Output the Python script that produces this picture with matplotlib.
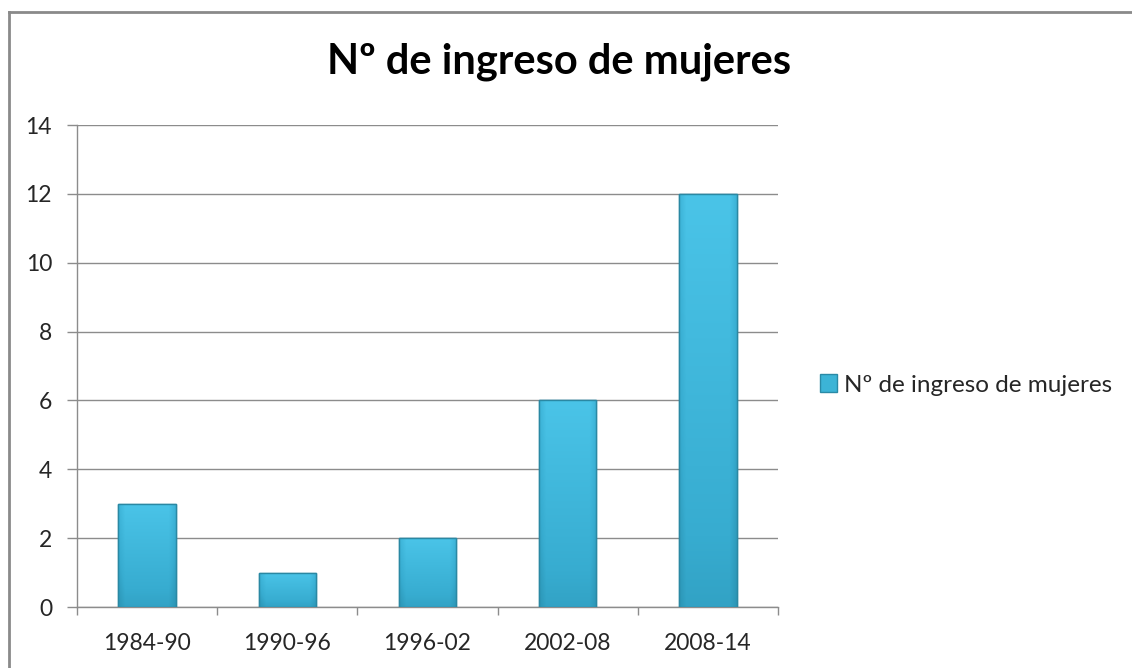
import numpy as np
import matplotlib.pyplot as plt
from matplotlib.patches import Patch
from matplotlib.lines import Line2D
from matplotlib.colors import LinearSegmentedColormap

# datos del gráfico
periodos = ['1984-90', '1990-96', '1996-02', '2002-08', '2008-14']
ingresos = [3, 1, 2, 6, 12]
serie = 'Nº de ingreso de mujeres'

plt.rcParams['font.family'] = ['Lato', 'DejaVu Sans']

fig = plt.figure(figsize=(11.32, 6.68), dpi=100)
ax = fig.add_axes([77 / 1132, 61 / 668, 701 / 1132, 482 / 668])

x = np.arange(len(periodos))
bars = ax.bar(x, ingresos, width=0.41, color='#3cb4d6', edgecolor='#2a8aa6',
              linewidth=1.0, zorder=3, label=serie)

# degradado: claro arriba, oscuro abajo, bordes laterales más oscuros
cmap = LinearSegmentedColormap.from_list('barra', ['#1f7d99', '#37acd0', '#4ac4e8'])
filas = np.linspace(1, 0.4, 100)[:, None]
u = np.linspace(0, 1, 60)[None, :]
lados = 1 - 0.35 * np.clip((np.abs(u - 0.5) - 0.38) / 0.12, 0, 1)
img = filas * lados
for b in bars:
    x0, y0 = b.get_x(), b.get_y()
    w, h = b.get_width(), b.get_height()
    im = ax.imshow(img, extent=[x0, x0 + w, y0, y0 + h], origin='upper',
                   cmap=cmap, vmin=0, vmax=1, aspect='auto', zorder=3.5,
                   interpolation='bilinear')
    im.set_clip_path(b)
    ax.add_patch(plt.Rectangle((x0, y0), w, h, fill=False,
                               edgecolor='#2a88a3', linewidth=1.0, zorder=4))

ax.set_xlim(-0.5, len(periodos) - 0.5)
ax.set_ylim(0, 14)
ax.set_yticks(range(0, 15, 2))
ax.set_xticks(x)
ax.set_xticklabels(periodos)
ax.set_xticks(np.arange(len(periodos) + 1) - 0.5, minor=True)
ax.tick_params(axis='x', which='major', length=0, pad=19, labelsize=16.5, labelcolor='#262626')
ax.tick_params(axis='x', which='minor', length=6, color='#8c8c8c', width=1)
ax.tick_params(axis='y', length=7, color='#8c8c8c', width=1, pad=11,
               labelsize=16.5, labelcolor='#262626')

ax.grid(axis='y', color='#8c8c8c', linewidth=1, zorder=0)
for s in ['top', 'right']:
    ax.spines[s].set_visible(False)
for s in ['left', 'bottom']:
    ax.spines[s].set_color('#8c8c8c')
    ax.spines[s].set_linewidth(1)

fig.text(559 / 1132, 1 - 62 / 668, serie, ha='center', va='center',
         fontsize=30, fontweight='bold', color='#000000')

leg = fig.legend(handles=[Patch(facecolor='#3cb4d6', edgecolor='#2a8aa6')],
                 labels=[serie], loc='center left',
                 bbox_to_anchor=(820 / 1132, 1 - 385 / 668), frameon=False,
                 borderpad=0, borderaxespad=0,
                 fontsize=17.5, handlelength=0.7, handleheight=0.7, handletextpad=0.3)
for t in leg.get_texts():
    t.set_color('#262626')

# marco exterior
fig.add_artist(Line2D([9 / 1132, 1], [1 - 12 / 668, 1 - 12 / 668], color='#8a8a8a', lw=2))
fig.add_artist(Line2D([9 / 1132, 9 / 1132], [0, 1 - 12 / 668], color='#8a8a8a', lw=2))

fig.savefig('out.png', dpi=100, facecolor='white')
